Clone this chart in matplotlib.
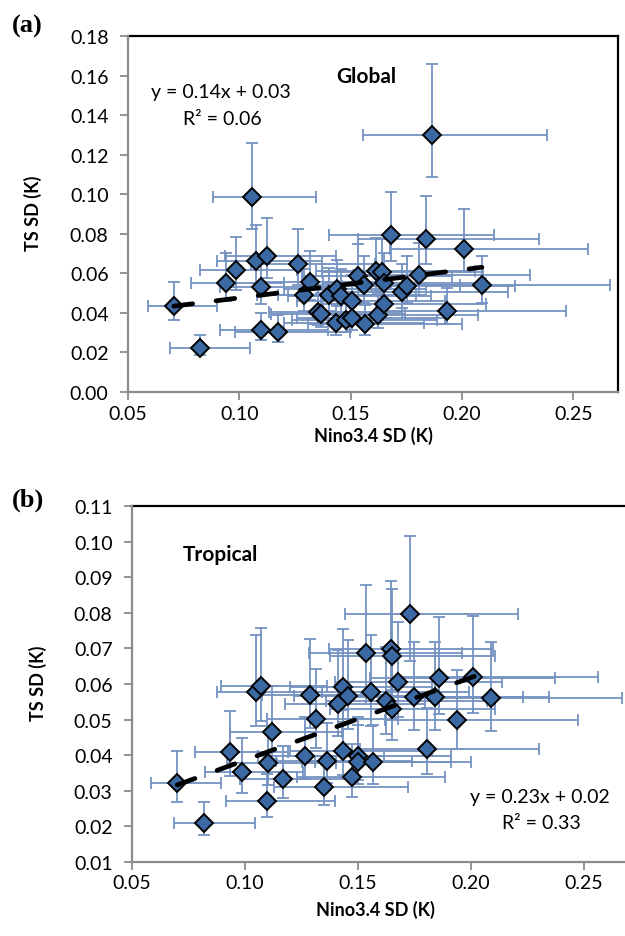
import numpy as np
import matplotlib
matplotlib.use("Agg")
import matplotlib.pyplot as plt
from matplotlib.ticker import FormatStrFormatter

plt.rcParams['font.family'] = ['Lato', 'DejaVu Sans']

# ---------------- data ----------------
# Panel (a) Global
nino_a = [0.0706, 0.0822, 0.0939, 0.0986, 0.1055, 0.1075, 0.1095, 0.1095, 0.1122, 0.1172,
          0.1262, 0.1290, 0.1316, 0.1355, 0.1368, 0.1404, 0.1435, 0.1440, 0.1458, 0.1480,
          0.1507, 0.1507, 0.1533, 0.1560, 0.1566, 0.1612, 0.1640, 0.1650, 0.1624, 0.1650,
          0.1680, 0.1730, 0.1752, 0.1807, 0.1838, 0.1865, 0.1932, 0.2009, 0.2089]
ts_a = [0.0435, 0.0225, 0.0550, 0.0615, 0.0985, 0.0660, 0.0530, 0.0312, 0.0688, 0.0305,
        0.0645, 0.0488, 0.0558, 0.0405, 0.0392, 0.0492, 0.0348, 0.0522, 0.0487, 0.0362,
        0.0462, 0.0376, 0.0588, 0.0540, 0.0345, 0.0612, 0.0608, 0.0552, 0.0388, 0.0446,
        0.0793, 0.0508, 0.0538, 0.0590, 0.0775, 0.1300, 0.0412, 0.0725, 0.0540]

# Panel (b) Tropical
nino_b = [0.0700, 0.0820, 0.0934, 0.0985, 0.1050, 0.1070, 0.1100, 0.1097, 0.1120, 0.1170,
          0.1265, 0.1290, 0.1316, 0.1350, 0.1363, 0.1410, 0.1434, 0.1434, 0.1456, 0.1476,
          0.1500, 0.1500, 0.1535, 0.1560, 0.1567, 0.1625, 0.1645, 0.1650, 0.1650, 0.1677,
          0.1730, 0.1748, 0.1805, 0.1840, 0.1860, 0.1938, 0.2010, 0.2090]
ts_b = [0.0323, 0.0210, 0.0410, 0.0352, 0.0578, 0.0593, 0.0378, 0.0272, 0.0466, 0.0334,
        0.0398, 0.0569, 0.0503, 0.0312, 0.0384, 0.0545, 0.0413, 0.0592, 0.0567, 0.0339,
        0.0397, 0.0381, 0.0688, 0.0578, 0.0381, 0.0552, 0.0698, 0.0679, 0.0529, 0.0607,
        0.0797, 0.0563, 0.0417, 0.0563, 0.0617, 0.0500, 0.0620, 0.0562]

# confidence interval of each SD, as fractions of the value
ci_low = 0.835
ci_high = 1.276

# trend lines (slope, intercept) as drawn
fit_a = (0.142, 0.0334)
fit_b = (0.232, 0.0154)

eq_a = ["y = 0.14x + 0.03", "R\u00b2 = 0.06"]
eq_b = ["y = 0.23x + 0.02", "R\u00b2 = 0.33"]

xticks = [0.05, 0.10, 0.15, 0.20, 0.25]
yticks_a = [0.00, 0.02, 0.04, 0.06, 0.08, 0.10, 0.12, 0.14, 0.16, 0.18]
yticks_b = [0.01, 0.02, 0.03, 0.04, 0.05, 0.06, 0.07, 0.08, 0.09, 0.10, 0.11]

# ---------------- styles ----------------
MARK_FC = '#3B69A3'
ERR_C = '#7492C2'
AXIS_GREY = '#8C8C8C'

W, H = 625, 937
fig = plt.figure(figsize=(W / 100, H / 100), dpi=100)


def px_axes(l, t, r, b):
    return [l / W, 1 - b / H, (r - l) / W, (b - t) / H]


def draw_panel(ax, x, y, fit, yticks, ylim):
    x = np.asarray(x)
    y = np.asarray(y)
    ax.errorbar(x, y,
                xerr=[x - x * ci_low, x * ci_high - x],
                yerr=[y - y * ci_low, y * ci_high - y],
                fmt='none', ecolor=ERR_C, elinewidth=1.3, capsize=4, capthick=1.3,
                zorder=2)
    ax.plot(x, y, linestyle='none', marker='D', ms=9.0, mfc=MARK_FC, mec='black',
            mew=1.4, zorder=3)
    xs = np.array([x.min(), x.max()])
    ax.plot(xs, fit[0] * xs + fit[1], color='black', lw=3.4,
            linestyle=(0, (4, 5.0)), dash_capstyle='round', zorder=4)
    ax.set_xlim(0.05, 0.27)
    ax.set_ylim(*ylim)
    ax.set_xticks(xticks)
    ax.set_yticks(yticks)
    ax.xaxis.set_major_formatter(FormatStrFormatter('%.2f'))
    ax.yaxis.set_major_formatter(FormatStrFormatter('%.2f'))
    ax.tick_params(axis='both', direction='out', length=6, width=1.3,
                   color=AXIS_GREY, labelsize=14, labelcolor='black')
    ax.tick_params(axis='y', pad=8)
    ax.tick_params(axis='x', pad=3)
    for s in ('left', 'bottom'):
        ax.spines[s].set_color(AXIS_GREY)
        ax.spines[s].set_linewidth(1.6)
    for s in ('top', 'right'):
        ax.spines[s].set_color('black')
        ax.spines[s].set_linewidth(1.6)
    ax.spines['bottom'].set_zorder(5)
    ax.spines['left'].set_zorder(5)


# Panel (a)
ax_a = fig.add_axes(px_axes(128, 37, 618, 393))
draw_panel(ax_a, nino_a, ts_a, fit_a, yticks_a, (0.0, 0.18))
ax_a.text(0.19, 0.843, eq_a[0], transform=ax_a.transAxes, ha='center', va='center',
          fontsize=14)
ax_a.text(0.193, 0.767, eq_a[1], transform=ax_a.transAxes, ha='center', va='center',
          fontsize=14)
ax_a.text(0.486, 0.888, "Global", transform=ax_a.transAxes, ha='center', va='center',
          fontsize=15, fontweight='bold')

# Panel (b)
ax_b = fig.add_axes(px_axes(132, 507, 629, 863))
draw_panel(ax_b, nino_b, ts_b, fit_b, yticks_b, (0.01, 0.11))
ax_b.text(0.177, 0.865, "Tropical", transform=ax_b.transAxes, ha='center', va='center',
          fontsize=15, fontweight='bold')
ax_b.text(0.821, 0.185, eq_b[0], transform=ax_b.transAxes, ha='center', va='center',
          fontsize=14)
ax_b.text(0.823, 0.110, eq_b[1], transform=ax_b.transAxes, ha='center', va='center',
          fontsize=14)

# axis labels
fig.text(373 / W, 1 - 436 / H, "Nino3.4 SD (K)", ha='center', va='center',
         fontsize=13, fontweight='bold')
fig.text(375 / W, 1 - 910 / H, "Nino3.4 SD (K)", ha='center', va='center',
         fontsize=13, fontweight='bold')
fig.text(33 / W, 1 - 213 / H, "TS SD (K)", ha='center', va='center', rotation=90,
         fontsize=13, fontweight='bold')
fig.text(38 / W, 1 - 683 / H, "TS SD (K)", ha='center', va='center', rotation=90,
         fontsize=13, fontweight='bold')

# panel letters
fig.text(27 / W, 1 - 26 / H, "(a)", ha='center', va='center', fontsize=19,
         fontweight='bold', family=['Liberation Serif', 'DejaVu Serif'])
fig.text(28 / W, 1 - 500 / H, "(b)", ha='center', va='center', fontsize=19,
         fontweight='bold', family=['Liberation Serif', 'DejaVu Serif'])

fig.savefig('out.png', dpi=100)
